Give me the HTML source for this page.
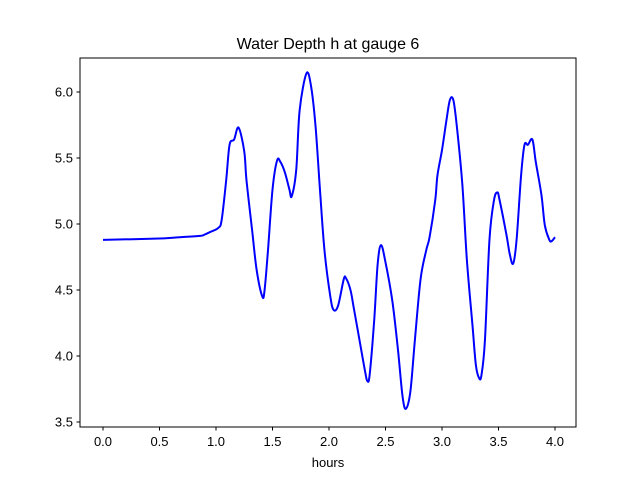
<!DOCTYPE html>
<html><head><meta charset="utf-8"><style>body{margin:0;background:#fff}svg{display:block;font-family:"Liberation Sans","DejaVu Sans",sans-serif}</style></head>
<body>
<svg id="chart" width="640" height="480" viewBox="0 0 640 480">
<rect x="0" y="0" width="640" height="480" fill="#fff"/>
<text x="328" y="49" font-size="16" text-anchor="middle">Water Depth h at gauge 6</text>
<g id="ticks"></g>
<path id="line" fill="none" stroke="#0000ff" stroke-width="2"/>
<rect x="80" y="58" width="496" height="369" fill="none" stroke="#000" stroke-width="1"/>
<text x="328" y="467" font-size="13" text-anchor="middle">hours</text>
</svg>
<script>
const hours=[0,0.5,0.68,0.86,0.9,0.95,1.02,1.05,1.09,1.12,1.16,1.2,1.25,1.27,1.32,1.36,1.41,1.43,1.46,1.5,1.54,1.57,1.61,1.65,1.67,1.71,1.74,1.8,1.84,1.88,1.92,1.96,2.01,2.04,2.08,2.13,2.15,2.19,2.22,2.27,2.32,2.34,2.36,2.4,2.43,2.46,2.5,2.56,2.61,2.65,2.68,2.72,2.76,2.81,2.86,2.89,2.94,2.96,3.0,3.04,3.07,3.1,3.13,3.18,3.22,3.27,3.3,3.33,3.35,3.38,3.42,3.46,3.49,3.51,3.57,3.6,3.63,3.66,3.7,3.73,3.76,3.8,3.83,3.88,3.91,3.95,3.97,4.0];
const depth=[4.88,4.89,4.9,4.91,4.92,4.94,4.97,5.03,5.33,5.6,5.64,5.73,5.55,5.33,4.95,4.65,4.45,4.5,4.8,5.26,5.48,5.47,5.39,5.26,5.21,5.41,5.86,6.14,6.05,5.75,5.26,4.8,4.46,4.35,4.38,4.58,4.59,4.5,4.36,4.12,3.88,3.81,3.86,4.27,4.69,4.84,4.71,4.42,4.05,3.7,3.6,3.73,4.12,4.58,4.8,4.9,5.18,5.37,5.56,5.79,5.94,5.94,5.75,5.3,4.73,4.23,3.93,3.83,3.86,4.12,4.88,5.18,5.24,5.18,4.92,4.77,4.7,4.88,5.37,5.6,5.6,5.64,5.47,5.22,4.99,4.88,4.87,4.9];
const xTicks=[0,0.5,1,1.5,2,2.5,3,3.5,4];
const xTickLabels=["0.0","0.5","1.0","1.5","2.0","2.5","3.0","3.5","4.0"];
const yTicks=[3.5,4,4.5,5,5.5,6];
const yTickLabels=["3.5","4.0","4.5","5.0","5.5","6.0"];
function xs(v){return 103+v*113;}
function ys(v){return 224-(v-5)*132;}
const NS="http://www.w3.org/2000/svg";
const g=document.getElementById('ticks');
function mk(t,a){const e=document.createElementNS(NS,t);for(const k in a)e.setAttribute(k,a[k]);return e;}
xTicks.forEach((v,i)=>{
  const l=mk('line',{x1:xs(v),x2:xs(v),y1:427,y2:430.5,stroke:'#000'});
  
  
  g.appendChild(l);
  const t=mk('text',{x:xs(v),y:446,'font-size':13,'text-anchor':'middle'});
  
  
  t.textContent=xTickLabels[i];g.appendChild(t);
});
yTicks.forEach((v,i)=>{
  const l=mk('line',{x1:76.5,x2:80,y1:ys(v),y2:ys(v),stroke:'#000'});
  
  
  g.appendChild(l);
  const t=mk('text',{x:73,y:ys(v)+4.5,'font-size':13,'text-anchor':'end'});
  
  
  t.textContent=yTickLabels[i];g.appendChild(t);
});
const P=hours.map((h,i)=>[xs(h),ys(depth[i])]);
let d='M'+P[0][0]+','+P[0][1];
for(let i=0;i<P.length-1;i++){
  const p0=P[Math.max(0,i-1)],p1=P[i],p2=P[i+1],p3=P[Math.min(P.length-1,i+2)];
  const c1=[p1[0]+(p2[0]-p0[0])/6,p1[1]+(p2[1]-p0[1])/6];
  const c2=[p2[0]-(p3[0]-p1[0])/6,p2[1]-(p3[1]-p1[1])/6];
  d+=' C'+c1[0]+','+c1[1]+' '+c2[0]+','+c2[1]+' '+p2[0]+','+p2[1];
}
document.getElementById('line').setAttribute('d',d);
</script>
</body></html>
